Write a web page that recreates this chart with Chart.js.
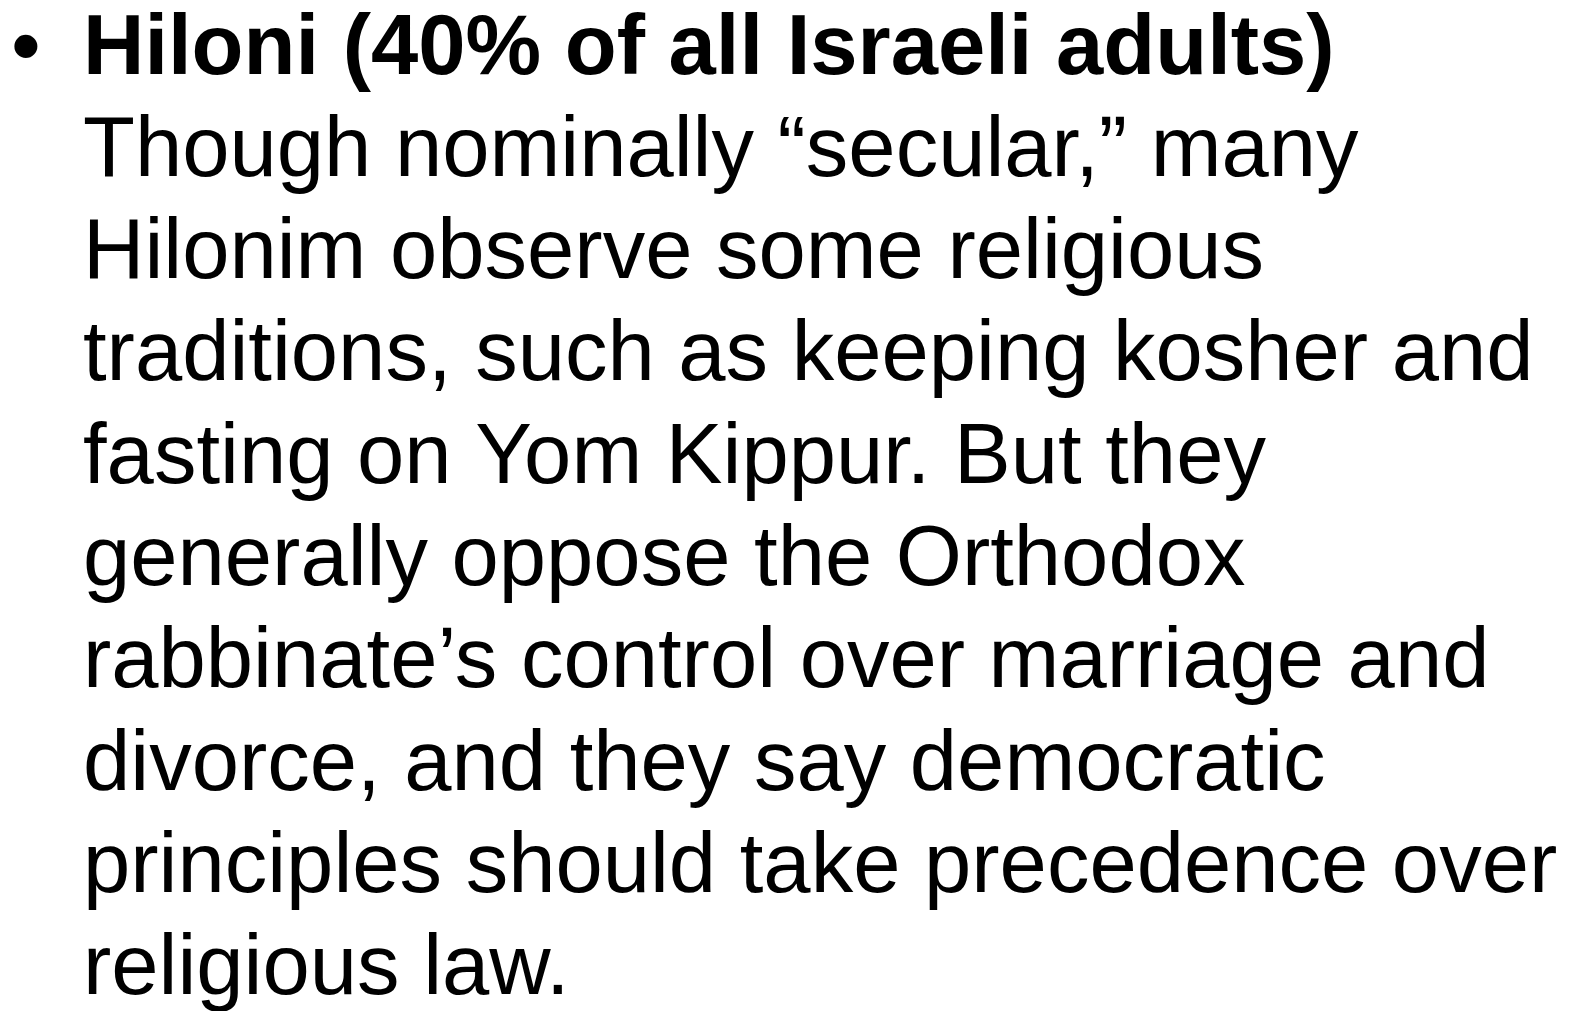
<!DOCTYPE html>
<html>
<head>
<meta charset="utf-8">
<title>Hiloni</title>
<script src="https://cdn.jsdelivr.net/npm/chart.js@4.4.1/dist/chart.umd.min.js"></script>
<style>
  html, body { margin: 0; padding: 0; background: #fff; overflow: hidden; }
  #wrap { position: relative; width: 1580px; height: 1011px; }
</style>
</head>
<body>
<div id="wrap"><canvas id="slide"></canvas></div>
<script>
	// slide text
	var bullet = "\u2022";
	var heading = "Hiloni (40% of all Israeli adults)";
	var bodyLines = [
		"Though nominally \u201csecular,\u201d many",
		"Hilonim observe some religious",
		"traditions, such as keeping kosher and",
		"fasting on Yom Kippur. But they",
		"generally oppose the Orthodox",
		"rabbinate\u2019s control over marriage and",
		"divorce, and they say democratic",
		"principles should take precedence over",
		"religious law.",
	];

	var fontFamily = "'Liberation Sans', Arial, Helvetica, sans-serif";
	var fontSize = 85;
	var lineH = 102.3;

	// draws the bullet in front of the heading
	var bulletPlugin = {
		id: "bullet",
		afterDraw: function (chart) {
			var c = chart.ctx;
			c.save();
			c.fillStyle = "#000";
			c.font = fontSize + "px " + fontFamily;
			c.textBaseline = "alphabetic";
			c.fillText(bullet, 11, 75);
			c.restore();
		},
	};

	var ctx = document.getElementById("slide").getContext("2d");
	var slide = new Chart(ctx, {
		type: "bar",
		data: { labels: [], datasets: [] },
		options: {
			responsive: true,
			maintainAspectRatio: false,
			animation: false,
			layout: { padding: { left: 83, top: -1, right: 0, bottom: 0 } },
			scales: { x: { display: false }, y: { display: false } },
			plugins: {
				legend: { display: false },
				tooltip: { enabled: false },
				title: {
					display: true,
					text: heading,
					align: "start",
					color: "#000",
					padding: { top: 0, bottom: 0 },
					font: { family: fontFamily, size: fontSize, weight: "bold", lineHeight: lineH + "px" },
				},
				subtitle: {
					display: true,
					text: bodyLines,
					align: "start",
					color: "#000",
					padding: { top: 0, bottom: 0 },
					font: { family: fontFamily, size: fontSize, weight: "normal", lineHeight: lineH + "px" },
				},
			},
		},
		plugins: [bulletPlugin],
	});
</script>
</body>
</html>
